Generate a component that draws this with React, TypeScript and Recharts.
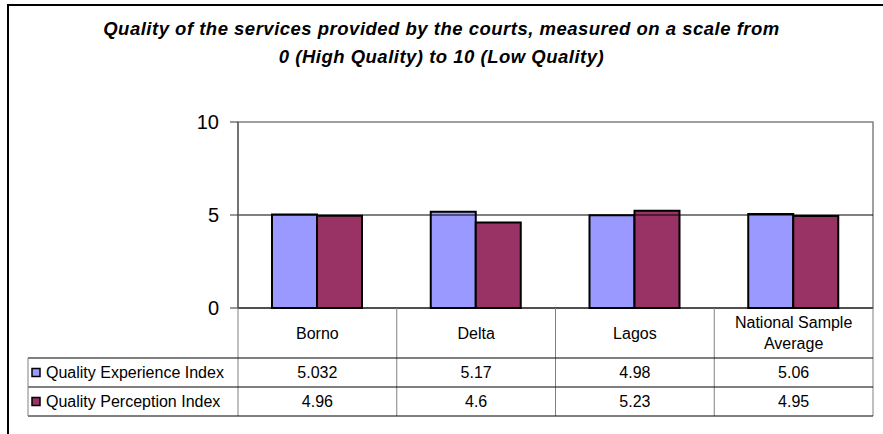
import { Bar, BarChart, ReferenceArea, ReferenceLine, XAxis, YAxis } from 'recharts';

const categories = ['Borno', 'Delta', 'Lagos', 'National Sample Average'];
const experienceIndex = [5.032, 5.17, 4.98, 5.06];
const perceptionIndex = [4.96, 4.6, 5.23, 4.95];
const yTicks = [0, 5, 10];

const seriesNames = ['Quality Experience Index', 'Quality Perception Index'];
const seriesColors = ['#9999FF', '#993366'];
const seriesValues = [experienceIndex, perceptionIndex];

const data = categories.map((name, i) => ({
  name,
  experience: experienceIndex[i],
  perception: perceptionIndex[i],
}));

const W = 883;
const H = 434;
const PLOT_LEFT = 238;
const PLOT_RIGHT = 873;
const PLOT_TOP = 122;
const PLOT_BOTTOM = 308;
const ROW1 = 358;
const ROW2 = 387;
const ROW3 = 416;
const TABLE_LEFT = 28;
const FONT = '"Liberation Sans", Arial, sans-serif';
const TABLE_FONT = 16;
const colW = (PLOT_RIGHT - PLOT_LEFT) / categories.length;

function headerLines(name: string) {
  return name === 'National Sample Average' ? ['National Sample', 'Average'] : [name];
}

function TableColumn(props: any) {
  const { x, index } = props;
  const left = x - colW / 2;
  const right = x + colW / 2;
  const lines = headerLines(categories[index]);
  const mid = (PLOT_BOTTOM + ROW1) / 2;
  return (
    <g fontFamily={FONT} fontSize={TABLE_FONT} fill="#000">
      <line x1={left} x2={left} y1={PLOT_BOTTOM} y2={ROW3} stroke="#808080" />
      {index === categories.length - 1 && (
        <line x1={right} x2={right} y1={PLOT_BOTTOM} y2={ROW3} stroke="#808080" />
      )}
      {lines.map((l, k) => (
        <text
          key={l}
          x={x}
          y={mid + (k - (lines.length - 1) / 2) * 21}
          textAnchor="middle"
          dominantBaseline="central"
        >
          {l}
        </text>
      ))}
      {seriesValues.map((vals, r) => (
        <text
          key={r}
          x={x}
          y={r === 0 ? (ROW1 + ROW2) / 2 : (ROW2 + ROW3) / 2}
          textAnchor="middle"
          dominantBaseline="central"
        >
          {vals[index]}
        </text>
      ))}
    </g>
  );
}

export default function App() {
  return (
    <div
      style={{
        position: 'fixed',
        left: 0,
        top: 0,
        width: W,
        height: H,
        background: '#fff',
        overflow: 'hidden',
      }}
    >
      <div
        style={{
          position: 'absolute',
          left: 7,
          top: 4,
          width: 1000,
          height: 1000,
          border: '2px solid #000',
        }}
      />
      <div
        style={{
          position: 'absolute',
          left: 0,
          top: 15,
          width: W,
          textAlign: 'center',
          fontFamily: FONT,
          fontWeight: 'bold',
          fontStyle: 'italic',
          fontSize: 18.5,
          letterSpacing: 0.5,
          lineHeight: '28px',
        }}
      >
        Quality of the services provided by the courts, measured on a scale from
        <br />0 (High Quality) to 10 (Low Quality)
      </div>
      <div style={{ position: 'absolute', left: 0, top: 0 }}>
        <BarChart
          width={W}
          height={H}
          data={data}
          margin={{ top: PLOT_TOP, right: W - PLOT_RIGHT, left: PLOT_LEFT - 60, bottom: H - ROW3 }}
          barGap={0}
          barSize={45}
        >
          <ReferenceArea y1={0} y2={10} fill="none" stroke="#808080" strokeWidth={1.5} />
          <ReferenceLine y={5} stroke="#000" />
          <XAxis
            dataKey="name"
            height={ROW3 - PLOT_BOTTOM}
            axisLine={{ stroke: '#000' }}
            tickLine={false}
            interval={0}
            tick={<TableColumn />}
          />
          <YAxis
            width={60}
            domain={[0, 10]}
            ticks={yTicks}
            tickSize={8}
            tickMargin={11}
            axisLine={{ stroke: '#666', strokeWidth: 1.5 }}
            tickLine={{ stroke: '#333' }}
            tick={{ fill: '#000', fontSize: 20, fontFamily: FONT }}
          />
          <Bar dataKey="experience" fill={seriesColors[0]} stroke="#000" strokeWidth={2} isAnimationActive={false} />
          <Bar dataKey="perception" fill={seriesColors[1]} stroke="#000" strokeWidth={2} isAnimationActive={false} />
        </BarChart>
      </div>
      <svg
        width={W}
        height={H}
        style={{ position: 'absolute', left: 0, top: 0, pointerEvents: 'none' }}
      >
        {[ROW1, ROW2, ROW3].map((y) => (
          <line key={y} x1={TABLE_LEFT} x2={PLOT_RIGHT} y1={y} y2={y} stroke="#000" />
        ))}
        <line x1={TABLE_LEFT} x2={TABLE_LEFT} y1={ROW1} y2={ROW3} stroke="#808080" />
        {seriesNames.map((name, r) => {
          const cy = r === 0 ? (ROW1 + ROW2) / 2 : (ROW2 + ROW3) / 2;
          return (
            <g key={name}>
              <rect x={32} y={cy - 4} width={8} height={8} fill={seriesColors[r]} stroke="#000" strokeWidth={1.5} />
              <text
                x={46}
                y={cy}
                dominantBaseline="central"
                fontFamily={FONT}
                fontSize={TABLE_FONT}
                fill="#000"
              >
                {name}
              </text>
            </g>
          );
        })}
      </svg>
    </div>
  );
}
